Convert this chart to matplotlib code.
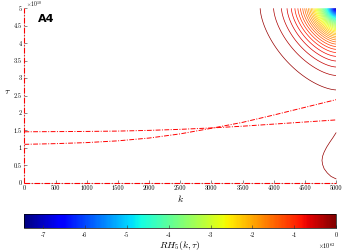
import numpy as np
import matplotlib
matplotlib.use("Agg")
import matplotlib.pyplot as plt
from matplotlib import cm, colors

plt.rcParams['mathtext.fontset'] = 'cm'
plt.rcParams['font.family'] = ['cmr10', 'DejaVu Serif']
plt.rcParams['axes.unicode_minus'] = False

# ---- data ----
k_ticks = [0, 500, 1000, 1500, 2000, 2500, 3000, 3500, 4000, 4500, 5000]
tau_ticks = [0, 0.5e10, 1e10, 1.5e10, 2e10, 2.5e10, 3e10, 3.5e10, 4e10, 4.5e10, 5e10]
tau_tick_labels = ["0", "0.5", "1", "1.5", "2", "2.5", "3", "3.5", "4", "4.5", "5"]
cbar_ticks = [-7e62, -6e62, -5e62, -4e62, -3e62, -2e62, -1e62, 0]
cbar_tick_labels = ["-7", "-6", "-5", "-4", "-3", "-2", "-1", "0"]

# RH5 surface: peak in top-right corner, decays away
field_peak = -7.45e62
corner_k = 5000
corner_tau = 5e10
decay_k = 311.0
decay_tau = 0.598e10
shape_p = 1.6
n_levels = 50

# dash-dot curves
curve_k = [0, 500, 1000, 1500, 2000, 2500, 3000, 3500, 4000, 4500, 5000]
curve_steep_tau = [1.10e10, 1.12e10, 1.15e10, 1.20e10, 1.28e10, 1.40e10, 1.56e10, 1.73e10, 1.94e10, 2.16e10, 2.38e10]
curve_flat_tau = [1.46e10, 1.465e10, 1.47e10, 1.48e10, 1.50e10, 1.53e10, 1.57e10, 1.62e10, 1.68e10, 1.74e10, 1.80e10]

# lower-right closed contour
loop_k = [5000, 4950, 4900, 4850, 4810, 4785, 4775, 4785, 4810, 4860, 4920, 5000]
loop_tau = [1.43e10, 1.29e10, 1.16e10, 1.02e10, 0.88e10, 0.76e10, 0.64e10, 0.52e10, 0.40e10, 0.28e10, 0.18e10, 0.11e10]

# ---- figure ----
fig = plt.figure(figsize=(3.43, 2.52), dpi=100)
ax = fig.add_axes([0.0711, 0.275, 0.9085, 0.692])

K, T = np.meshgrid(np.linspace(0, 5000, 600), np.linspace(0, 5e10, 600))
r = ((np.abs(corner_k - K) / decay_k) ** shape_p + (np.abs(corner_tau - T) / decay_tau) ** shape_p) ** (1.0 / shape_p)
Z = field_peak * np.exp(-r)

vmin = field_peak
norm = colors.Normalize(vmin=vmin, vmax=0)
levels = np.linspace(vmin, 0, n_levels + 1)[:-1]
ax.contour(K, T, Z, levels=levels, cmap='jet', norm=norm, linewidths=0.5)

dark_red = cm.jet(norm(-0.15e62))
ax.plot(loop_k, loop_tau, color=dark_red, lw=0.5, clip_on=False)

dd = (5, 1.5, 1, 1.5)
ax.plot(curve_k, curve_steep_tau, color='red', lw=0.7, dashes=dd)
ax.plot(curve_k, curve_flat_tau, color='red', lw=0.7, dashes=dd)

ax.set_xlim(0, 5000)
ax.set_ylim(0, 5e10)
ax.spines['top'].set_visible(False)
ax.spines['right'].set_visible(False)
for s in ['left', 'bottom']:
    ax.spines[s].set_color('#c8c8c8')
    ax.spines[s].set_linewidth(0.6)
ax.plot([0, 0], [0, 5e10], color='red', lw=0.8, dashes=dd, clip_on=False, zorder=5)
ax.plot([0, 5000], [0, 0], color='red', lw=0.8, dashes=dd, clip_on=False, zorder=5)
ax.set_xticks(k_ticks)
ax.set_xticklabels([str(v) for v in k_ticks])
ax.set_yticks(tau_ticks)
ax.set_yticklabels(tau_tick_labels)
ax.tick_params(direction='in', length=2.5, width=0.4, labelsize=4.5, pad=2, color='#333333')
ax.set_xlabel(r'$k$', fontsize=7, labelpad=1)
ax.set_ylabel(r'$\tau$', fontsize=7, labelpad=2, rotation=0)
ax.yaxis.set_label_coords(-0.055, 0.5)
ax.text(0.005, 0.995, r'$\times10^{10}$', transform=ax.transAxes, fontsize=4, va='bottom', ha='left')
ax.text(0.045, 0.965, 'A4', transform=ax.transAxes, fontsize=8, fontweight='bold',
        family='DejaVu Sans', va='top', ha='left')

cax = fig.add_axes([0.0711, 0.095, 0.9085, 0.0556])
sm = cm.ScalarMappable(norm=norm, cmap='jet')
cb = fig.colorbar(sm, cax=cax, orientation='horizontal')
cb.set_ticks(cbar_ticks)
cb.set_ticklabels(cbar_tick_labels)
cb.outline.set_linewidth(0.5)
cax.tick_params(direction='in', length=2, width=0.4, labelsize=4.5, pad=3, color='#333333')
cax.set_xlabel(r'$RH_5(k,\tau)$', fontsize=7, labelpad=1)
cax.text(1.0, -0.95, r'$\times10^{62}$', transform=cax.transAxes, fontsize=4.5, ha='right', va='top')

fig.savefig('out.png', dpi=100)
